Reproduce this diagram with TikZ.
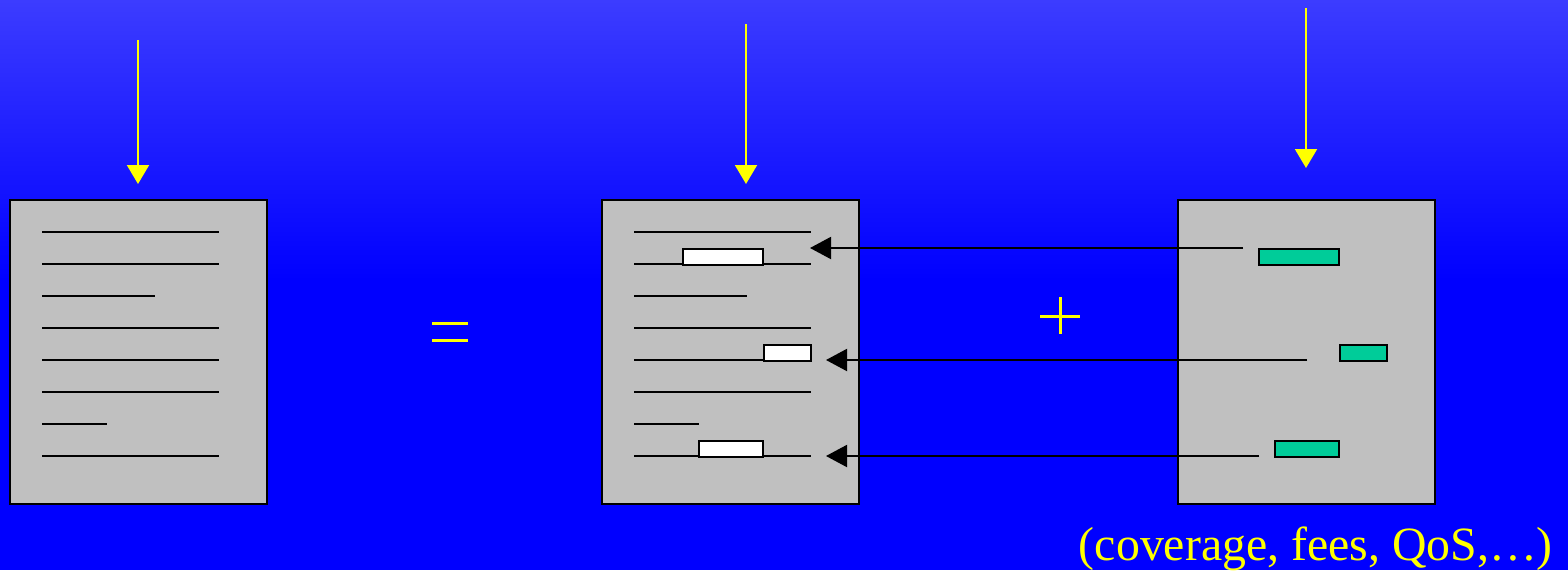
\documentclass[tikz,border=0pt]{standalone}
\usepackage{fontspec}
\setmainfont{Liberation Serif}
\usetikzlibrary{arrows.meta}
\definecolor{bgtop}{RGB}{60,60,255}
\definecolor{bgblue}{RGB}{0,0,255}
\definecolor{docgray}{RGB}{192,192,192}
\definecolor{tealgreen}{RGB}{0,204,153}
\definecolor{yel}{RGB}{255,255,0}
\begin{document}
\begin{tikzpicture}[x=1pt,y=-1pt,
  doc/.style={draw=black,line width=2pt,fill=docgray},
  textline/.style={draw=black,line width=2pt},
  whitebox/.style={draw=black,line width=2pt,fill=white},
  greenbox/.style={draw=black,line width=2pt,fill=tealgreen},
  yarrow/.style={draw=yel,line width=2pt,-{Triangle[length=19pt,width=22pt]}},
  barrow/.style={draw=black,line width=2pt,-{Triangle[length=21pt,width=22pt]}},
  symbar/.style={draw=yel,line width=3pt}]
\useasboundingbox (0,0) rectangle (1568,570);
\fill[bgblue] (0,0) rectangle (1568,570);
\shade[top color=bgtop,bottom color=bgblue] (0,0) rectangle (1568,280);
% documents
\path[doc] (10,200) rectangle (267,504);
\path[doc] (602,200) rectangle (859,504);
\path[doc] (1178,200) rectangle (1435,504);
% left doc lines
\foreach \y/\xe in {232/219,264/219,296/155,328/219,360/219,392/219,424/107,456/219}
  \draw[textline] (42,\y) -- (\xe,\y);
% middle doc lines
\foreach \y/\xe in {232/811,264/811,296/747,328/811,360/811,392/811,424/699,456/811}
  \draw[textline] (634,\y) -- (\xe,\y);
% white boxes
\node[whitebox,minimum width=80pt,minimum height=16pt,inner sep=0pt,anchor=north west] (w1) at (682,248) {};
\node[whitebox,minimum width=47pt,minimum height=16pt,inner sep=0pt,anchor=north west] (w2) at (763,344) {};
\node[whitebox,minimum width=64pt,minimum height=16pt,inner sep=0pt,anchor=north west] (w3) at (698,440) {};
% green boxes
\node[greenbox,minimum width=80pt,minimum height=16pt,inner sep=0pt,anchor=north west] (g1) at (1258,248) {};
\node[greenbox,minimum width=47pt,minimum height=16pt,inner sep=0pt,anchor=north west] (g2) at (1339,344) {};
\node[greenbox,minimum width=64pt,minimum height=16pt,inner sep=0pt,anchor=north west] (g3) at (1274,440) {};
% yellow arrows
\coordinate (ya1s) at (138,40);  \coordinate (ya1e) at (138,184);
\coordinate (ya2s) at (746,24);  \coordinate (ya2e) at (746,184);
\coordinate (ya3s) at (1306,8);  \coordinate (ya3e) at (1306,168);
\draw[yarrow] (ya1s) -- (ya1e);
\draw[yarrow] (ya2s) -- (ya2e);
\draw[yarrow] (ya3s) -- (ya3e);
% black arrows
\coordinate (b1s) at (1243,248); \coordinate (b1e) at (810,248);
\coordinate (b2s) at (1307,360); \coordinate (b2e) at (826,360);
\coordinate (b3s) at (1259,456); \coordinate (b3e) at (826,456);
\draw[barrow] (b1s) -- (b1e);
\draw[barrow] (b2s) -- (b2e);
\draw[barrow] (b3s) -- (b3e);
% equals and plus
\draw[symbar] (432,323) -- (468,323);
\draw[symbar] (432,340) -- (468,340);
\draw[symbar] (1040,316) -- (1080,316);
\draw[symbar] (1060,297) -- (1060,334);
% caption
\node[anchor=base east,inner sep=0pt,text=yel,font=\fontsize{47.8}{52}\selectfont] (cap) at (1553,560) {(coverage, fees, QoS,\ldots)};
\end{tikzpicture}
\end{document}
